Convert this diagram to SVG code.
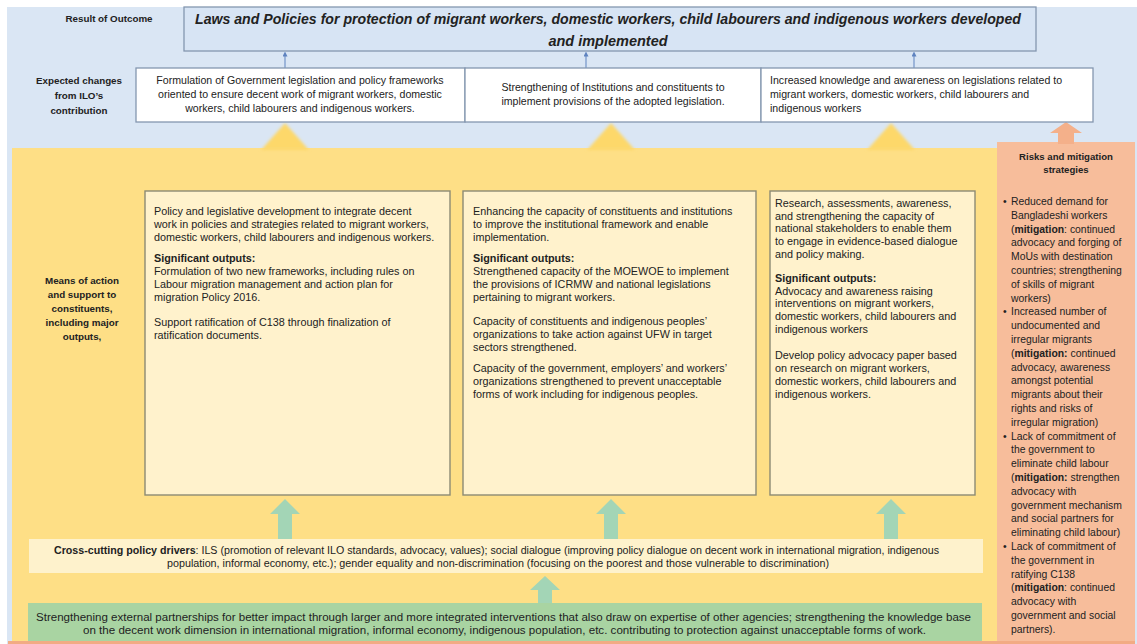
<svg xmlns="http://www.w3.org/2000/svg" width="1137" height="644" viewBox="0 0 1137 644">
<style>
  text { font-family: "Liberation Sans", Arial, sans-serif; fill: #222; }
  .lbl { font-size: 9.8px; font-weight: bold; text-anchor: middle; }
  .rtl { font-size: 9.6px; font-weight: bold; text-anchor: middle; }
  .body { font-size: 10.8px; }
  .exp { font-size: 10.6px; }
  .risk { font-size: 10.4px; }
  .ttl { font-size: 14.5px; font-weight: bold; font-style: italic; }
  .band { font-size: 10px; }
  .b { font-weight: bold; }
  .mid { text-anchor: middle; }
  .expbox { fill: #ffffff; stroke: #8497b0; stroke-width: 1.3; }
  .mainbox { fill: #fff2cc; stroke: #8c8a74; stroke-width: 1.4; }
  .thin { stroke: #5f83bf; stroke-width: 1; fill: none; }
  .tri { fill: #fdd86a; filter: url(#soft); }
  .garrow { fill: #a3d5b6; filter: url(#soft2); }
</style>
<defs>
  <marker id="ah" viewBox="0 0 6 6" refX="3" refY="3" markerWidth="5" markerHeight="5" orient="auto">
    <path d="M0,0 L6,3 L0,6 z" fill="#5f83bf"/>
  </marker>
  <filter id="soft" x="-30%" y="-30%" width="160%" height="160%">
    <feGaussianBlur stdDeviation="1.6"/>
  </filter>
  <filter id="soft2" x="-30%" y="-30%" width="160%" height="160%">
    <feGaussianBlur stdDeviation="0.7"/>
  </filter>
</defs>

<!-- page background -->
<rect x="0" y="0" width="1137" height="644" fill="#ffffff"/>
<rect x="7" y="7" width="1130" height="637" fill="#dae6f4"/>
<!-- means-of-action field and risks column -->
<rect x="12" y="148" width="985" height="494" fill="#fedf86"/>
<rect x="997" y="142" width="138" height="500" fill="#f7bd9b"/>
<rect x="8" y="641" width="1127" height="3" fill="#f2ab84"/>

<!-- connectors -->
<g id="connectors">
  <line class="thin" x1="285" y1="68" x2="285" y2="54" marker-end="url(#ah)"/>
  <line class="thin" x1="586" y1="68" x2="586" y2="54" marker-end="url(#ah)"/>
  <line class="thin" x1="914" y1="68" x2="914" y2="54" marker-end="url(#ah)"/>
  <polygon class="tri" points="285,123 261,150 309,150"/>
  <polygon class="tri" points="611,123 587,150 635,150"/>
  <polygon class="tri" points="891,123 867,150 915,150"/>
  <polygon points="1066,122 1050,133 1058,133 1058,144 1074,144 1074,133 1082,133" fill="#f4b08a" filter="url(#soft2)"/>
  <polygon class="garrow" points="285,499 270,514 278,514 278,539 292,539 292,514 300,514"/>
  <polygon class="garrow" points="611,499 596,514 604,514 604,539 618,539 618,514 626,514"/>
  <polygon class="garrow" points="891,499 876,514 884,514 884,539 898,539 898,514 906,514"/>
  <polygon class="garrow" points="545,576 530,590 538,590 538,603 552,603 552,590 560,590"/>
</g>

<!-- outcome -->
<g id="outcome">
  <rect x="184" y="7" width="852" height="44" fill="#d7e4f4" stroke="#8497b0" stroke-width="1.3"/>
  <text class="ttl" x="195" y="24" textLength="826" lengthAdjust="spacingAndGlyphs">Laws and Policies for protection of migrant workers, domestic workers, child labourers and indigenous workers developed</text>
  <text class="ttl mid" x="608" y="46">and implemented</text>
</g>
<g id="label-outcome">
  <text class="lbl" x="109" y="22">Result of Outcome</text>
</g>

<!-- expected changes -->
<g id="label-expected">
  <text class="lbl" x="79" y="84">Expected changes</text>
  <text class="lbl" x="79" y="99">from ILO’s</text>
  <text class="lbl" x="79" y="114">contribution</text>
</g>
<g id="change-legislation">
  <rect class="expbox" x="136" y="68" width="329" height="54"/>
  <text class="exp mid" x="300" y="84">Formulation of Government legislation and policy frameworks</text>
  <text class="exp mid" x="300" y="98">oriented to ensure decent work of migrant workers, domestic</text>
  <text class="exp mid" x="300" y="112">workers, child labourers and indigenous workers.</text>
</g>
<g id="change-institutions">
  <rect class="expbox" x="465" y="68" width="296" height="54"/>
  <text class="exp mid" x="613" y="91">Strengthening of Institutions and constituents to</text>
  <text class="exp mid" x="613" y="105">implement provisions of the adopted legislation.</text>
</g>
<g id="change-awareness">
  <rect class="expbox" x="761" y="68" width="332" height="54"/>
  <text class="exp" x="770" y="84">Increased knowledge and awareness on legislations related to</text>
  <text class="exp" x="770" y="98">migrant workers, domestic workers, child labourers and</text>
  <text class="exp" x="770" y="112">indigenous workers</text>
</g>

<!-- means of action -->
<g id="label-means">
  <text class="lbl" x="82" y="284">Means of action</text>
  <text class="lbl" x="82" y="298">and support to</text>
  <text class="lbl" x="82" y="312">constituents,</text>
  <text class="lbl" x="82" y="326">including major</text>
  <text class="lbl" x="82" y="340">outputs,</text>
</g>
<g id="output-policy">
  <rect class="mainbox" x="145" y="191" width="305" height="304"/>
  <text class="body" x="154" y="215">Policy and legislative development to integrate decent</text>
  <text class="body" x="154" y="228">work in policies and strategies related to migrant workers,</text>
  <text class="body" x="154" y="241">domestic workers, child labourers and indigenous workers.</text>
  <text class="body b" x="154" y="262">Significant outputs:</text>
  <text class="body" x="154" y="275">Formulation of two new frameworks, including rules on</text>
  <text class="body" x="154" y="288">Labour migration management and action plan for</text>
  <text class="body" x="154" y="301">migration Policy 2016.</text>
  <text class="body" x="154" y="326">Support ratification of C138 through finalization of</text>
  <text class="body" x="154" y="339">ratification documents.</text>
</g>
<g id="output-capacity">
  <rect class="mainbox" x="463" y="191" width="293" height="304"/>
  <text class="body" x="473" y="215">Enhancing the capacity of constituents and institutions</text>
  <text class="body" x="473" y="228">to improve the institutional framework and enable</text>
  <text class="body" x="473" y="241">implementation.</text>
  <text class="body b" x="473" y="262">Significant outputs:</text>
  <text class="body" x="473" y="275">Strengthened capacity of the MOEWOE to implement</text>
  <text class="body" x="473" y="288">the provisions of ICRMW and national legislations</text>
  <text class="body" x="473" y="301">pertaining to migrant workers.</text>
  <text class="body" x="473" y="325">Capacity of constituents and indigenous peoples’</text>
  <text class="body" x="473" y="338">organizations to take action against UFW in target</text>
  <text class="body" x="473" y="351">sectors strengthened.</text>
  <text class="body" x="473" y="372">Capacity of the government, employers’ and workers’</text>
  <text class="body" x="473" y="385">organizations strengthened to prevent unacceptable</text>
  <text class="body" x="473" y="398">forms of work including for indigenous peoples.</text>
</g>
<g id="output-research">
  <rect class="mainbox" x="770" y="191" width="205" height="304"/>
  <text class="body" x="775" y="207">Research, assessments, awareness,</text>
  <text class="body" x="775" y="220">and strengthening the capacity of</text>
  <text class="body" x="775" y="232">national stakeholders to enable them</text>
  <text class="body" x="775" y="245">to engage in evidence-based dialogue</text>
  <text class="body" x="775" y="258">and policy making.</text>
  <text class="body b" x="775" y="282">Significant outputs:</text>
  <text class="body" x="775" y="295">Advocacy and awareness raising</text>
  <text class="body" x="775" y="307">interventions on migrant workers,</text>
  <text class="body" x="775" y="320">domestic workers, child labourers and</text>
  <text class="body" x="775" y="333">indigenous workers</text>
  <text class="body" x="775" y="359">Develop policy advocacy paper based</text>
  <text class="body" x="775" y="372">on research on migrant workers,</text>
  <text class="body" x="775" y="385">domestic workers, child labourers and</text>
  <text class="body" x="775" y="398">indigenous workers.</text>
</g>

<!-- risks -->
<g id="risks">
  <text class="rtl" x="1066" y="160">Risks and mitigation</text>
  <text class="rtl" x="1066" y="173">strategies</text>
  <g class="risk">
    <text class="risk" x="1003" y="205">•</text>
    <text class="risk" x="1011" y="205">Reduced demand for</text>
    <text class="risk" x="1011" y="218.8">Bangladeshi workers</text>
    <text class="risk" x="1011" y="232.6">(<tspan class="b">mitigation</tspan>: continued</text>
    <text class="risk" x="1011" y="246.4">advocacy and forging of</text>
    <text class="risk" x="1011" y="260.2">MoUs with destination</text>
    <text class="risk" x="1011" y="274">countries; strengthening</text>
    <text class="risk" x="1011" y="287.8">of skills of migrant</text>
    <text class="risk" x="1011" y="301.6">workers)</text>
    <text class="risk" x="1003" y="315.4">•</text>
    <text class="risk" x="1011" y="315.4">Increased number of</text>
    <text class="risk" x="1011" y="329.2">undocumented and</text>
    <text class="risk" x="1011" y="343">irregular migrants</text>
    <text class="risk" x="1011" y="356.8">(<tspan class="b">mitigation:</tspan> continued</text>
    <text class="risk" x="1011" y="370.6">advocacy, awareness</text>
    <text class="risk" x="1011" y="384.4">amongst potential</text>
    <text class="risk" x="1011" y="398.2">migrants about their</text>
    <text class="risk" x="1011" y="412">rights and risks of</text>
    <text class="risk" x="1011" y="425.8">irregular migration)</text>
    <text class="risk" x="1003" y="439.6">•</text>
    <text class="risk" x="1011" y="439.6">Lack of commitment of</text>
    <text class="risk" x="1011" y="453.4">the government to</text>
    <text class="risk" x="1011" y="467.2">eliminate child labour</text>
    <text class="risk" x="1011" y="481">(<tspan class="b">mitigation:</tspan> strengthen</text>
    <text class="risk" x="1011" y="494.8">advocacy with</text>
    <text class="risk" x="1011" y="508.6">government mechanism</text>
    <text class="risk" x="1011" y="522.4">and social partners for</text>
    <text class="risk" x="1011" y="536.2">eliminating child labour)</text>
    <text class="risk" x="1003" y="550">•</text>
    <text class="risk" x="1011" y="550">Lack of commitment of</text>
    <text class="risk" x="1011" y="563.8">the government in</text>
    <text class="risk" x="1011" y="577.6">ratifying C138</text>
    <text class="risk" x="1011" y="591.4">(<tspan class="b">mitigation</tspan>: continued</text>
    <text class="risk" x="1011" y="605.2">advocacy with</text>
    <text class="risk" x="1011" y="619">government and social</text>
    <text class="risk" x="1011" y="632.8">partners).</text>
  </g>
</g>

<!-- cross-cutting drivers -->
<g id="drivers">
  <rect x="29" y="539" width="954" height="34" fill="#fef2cc"/>
  <text class="band" x="54" y="554" textLength="885" lengthAdjust="spacingAndGlyphs"><tspan class="b">Cross-cutting policy drivers</tspan>: ILS (promotion of relevant ILO standards, advocacy, values); social dialogue (improving policy dialogue on decent work in international migration, indigenous</text>
  <text class="band" x="167" y="567" textLength="662" lengthAdjust="spacingAndGlyphs">population, informal economy, etc.); gender equality and non-discrimination (focusing on the poorest and those vulnerable to discrimination)</text>
</g>

<!-- external partnerships -->
<g id="partnerships">
  <rect x="28" y="603" width="954" height="38" fill="#a9d4a2"/>
  <text class="band" x="36" y="621" textLength="935" lengthAdjust="spacingAndGlyphs">Strengthening external partnerships for better impact through larger and more integrated interventions that also draw on expertise of other agencies;  strengthening the knowledge base</text>
  <text class="band" x="83" y="634" textLength="843" lengthAdjust="spacingAndGlyphs">on the decent work dimension in international migration, informal economy, indigenous population, etc. contributing to protection against unacceptable forms of work.</text>
</g>
</svg>
